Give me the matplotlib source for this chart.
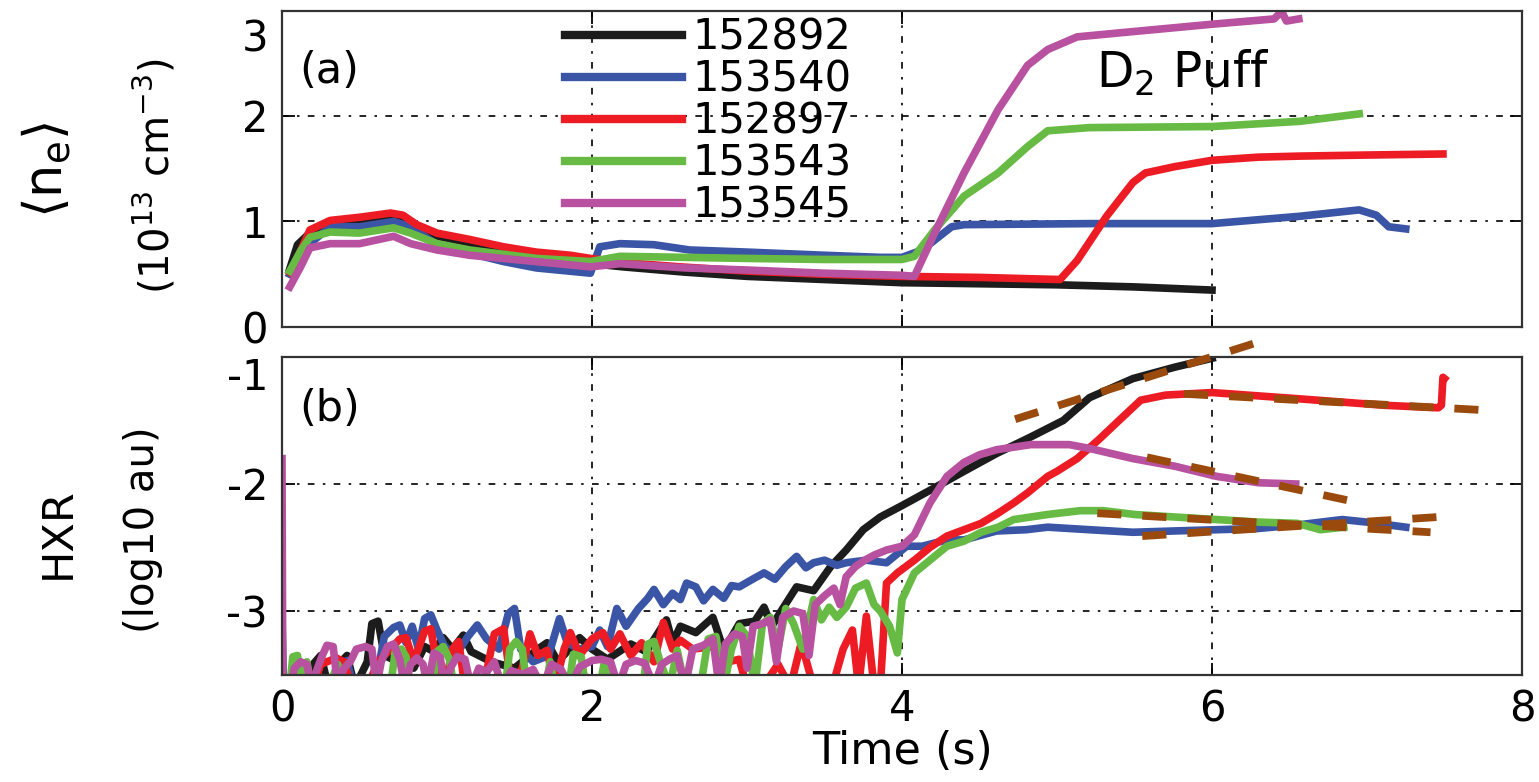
import matplotlib
matplotlib.use("Agg")
import matplotlib.pyplot as plt
from matplotlib.transforms import ScaledTranslation

# shot numbers and trace colours
SHOTS = ["152892", "153540", "152897", "153543", "153545"]
COLORS = ["#1c1c1c", "#3a55a5", "#ed1c24", "#67bb45", "#b8519f"]
FIT_COLOR = "#9a4a0c"

# ---- panel (a): line-averaged density, 1e13 cm^-3 ----
ne_t_152892 = [0.05, 0.10, 0.2, 0.3, 0.5, 0.7, 0.8, 0.9, 1.0, 1.2, 1.4, 1.6, 1.8, 2.0,
               2.2, 2.6, 3.0, 3.5, 4.0, 4.5, 5.0, 5.5, 6.0]
ne_v_152892 = [0.55, 0.78, 0.92, 0.97, 1.0, 1.03, 1.0, 0.93, 0.86, 0.80, 0.74, 0.69, 0.65, 0.60,
               0.57, 0.52, 0.48, 0.45, 0.42, 0.41, 0.40, 0.38, 0.35]

ne_t_153540 = [0.05, 0.10, 0.18, 0.31, 0.50, 0.72, 0.83, 1.0, 1.21, 1.43, 1.64, 1.99, 2.05,
               2.18, 2.4, 2.63, 3.0, 3.5, 3.86, 4.0, 4.13, 4.32, 4.40, 5.21, 6.0, 6.57, 6.95,
               7.06, 7.14, 7.25]
ne_v_153540 = [0.50, 0.65, 0.79, 0.95, 0.95, 1.0, 0.95, 0.78, 0.70, 0.62, 0.56, 0.51, 0.76,
               0.79, 0.78, 0.73, 0.71, 0.68, 0.66, 0.66, 0.73, 0.95, 0.97, 0.98, 0.98, 1.05, 1.11,
               1.06, 0.95, 0.93]

ne_t_152897 = [0.05, 0.08, 0.12, 0.18, 0.31, 0.50, 0.70, 0.78, 0.87, 1.0, 1.21, 1.43, 1.64,
               1.86, 1.99, 2.1, 2.3, 2.57, 3.0, 3.5, 4.0, 4.5, 5.02, 5.13, 5.32, 5.49, 5.57,
               5.76, 6.0, 6.3, 6.57, 7.0, 7.49]
ne_v_152897 = [0.52, 0.58, 0.72, 0.92, 1.01, 1.04, 1.08, 1.06, 0.97, 0.89, 0.83, 0.76, 0.71,
               0.68, 0.65, 0.63, 0.60, 0.57, 0.53, 0.50, 0.48, 0.47, 0.45, 0.63, 1.05, 1.37, 1.46,
               1.52, 1.58, 1.61, 1.62, 1.63, 1.64]

ne_t_153543 = [0.05, 0.12, 0.18, 0.31, 0.50, 0.72, 0.83, 1.0, 1.21, 1.64, 1.99, 2.18, 2.6,
               3.0, 3.5, 4.0, 4.08, 4.21, 4.40, 4.62, 4.81, 4.94, 5.21, 6.0, 6.57, 6.95]
ne_v_153543 = [0.53, 0.72, 0.85, 0.90, 0.89, 0.94, 0.89, 0.79, 0.73, 0.65, 0.62, 0.67, 0.66,
               0.65, 0.64, 0.64, 0.67, 0.92, 1.24, 1.46, 1.71, 1.86, 1.89, 1.90, 1.95, 2.02]

ne_t_153545 = [0.05, 0.12, 0.18, 0.31, 0.50, 0.72, 0.83, 1.0, 1.21, 1.64, 1.99, 2.18, 2.6,
               3.0, 3.5, 4.0, 4.08, 4.21, 4.40, 4.62, 4.81, 4.94, 5.13, 5.49, 6.0, 6.40, 6.45,
               6.48, 6.56]
ne_v_153545 = [0.38, 0.57, 0.75, 0.79, 0.79, 0.86, 0.79, 0.73, 0.68, 0.62, 0.57, 0.60, 0.56,
               0.54, 0.51, 0.49, 0.48, 0.89, 1.46, 2.06, 2.48, 2.63, 2.75, 2.80, 2.87, 2.92, 2.99,
               2.90, 2.92]

# ---- panel (b): HXR, log10 a.u. (values below -3.5 are clipped by the axis) ----
hxr_t_152892 = [0.0, 0.15, 0.20, 0.25, 0.30, 0.38, 0.42, 0.47, 0.55, 0.58, 0.62, 0.66, 0.75,
                0.85, 0.92, 0.98, 1.04, 1.10, 1.17, 1.22, 1.35, 1.50, 1.65, 1.71, 1.78, 1.92,
                2.0, 2.10, 2.25, 2.35, 2.48, 2.52, 2.57, 2.67, 2.78, 2.85, 2.95, 3.05, 3.11,
                3.16, 3.21, 3.32, 3.43, 3.54, 3.64, 3.75, 3.86, 4.0, 4.18, 4.40, 4.61, 4.83,
                5.04, 5.21, 5.49, 5.76, 6.0]
hxr_v_152892 = [-3.6, -3.6, -3.42, -3.35, -3.6, -3.40, -3.35, -3.6, -3.40, -3.10, -3.08, -3.35,
                -3.40, -3.45, -3.28, -3.32, -3.21, -3.30, -3.19, -3.32, -3.40, -3.45, -3.30,
                -3.25, -3.40, -3.21, -3.30, -3.38, -3.26, -3.32, -3.07, -3.25, -3.12, -3.17,
                -3.05, -3.31, -3.10, -3.08, -2.97, -3.12, -3.02, -2.81, -2.84, -2.65, -2.52,
                -2.36, -2.26, -2.17, -2.05, -1.90, -1.76, -1.63, -1.50, -1.32, -1.17, -1.08, -1.01]

hxr_t_153540 = [0.0, 0.01, 0.30, 0.38, 0.42, 0.46, 0.60, 0.66, 0.72, 0.76, 0.80, 0.84, 0.88,
                0.92, 0.96, 1.00, 1.05, 1.12, 1.20, 1.26, 1.32, 1.40, 1.46, 1.50, 1.54, 1.62,
                1.72, 1.79, 1.84, 1.92, 2.0, 2.05, 2.10, 2.16, 2.22, 2.30, 2.36, 2.40, 2.46,
                2.52, 2.57, 2.61, 2.67, 2.72, 2.78, 2.85, 2.90, 2.95, 3.05, 3.11, 3.18, 3.25,
                3.32, 3.38, 3.43, 3.50, 3.58, 3.64, 3.77, 3.90, 4.03, 4.13, 4.29, 4.40, 4.61,
                4.80, 4.94, 5.21, 5.49, 5.75, 6.03, 6.30, 6.57, 6.84, 7.00, 7.25]
hxr_v_153540 = [-3.05, -3.6, -3.6, -3.45, -3.39, -3.6, -3.6, -3.20, -3.13, -3.11, -3.25, -3.12,
                -3.30, -3.06, -3.03, -3.15, -3.28, -3.35, -3.20, -3.11, -3.22, -3.30, -3.02,
                -2.98, -3.30, -3.40, -3.35, -3.06, -3.25, -3.30, -3.28, -3.15, -3.28, -2.98,
                -3.12, -2.98, -2.90, -2.83, -2.95, -2.86, -2.91, -2.78, -2.81, -2.92, -2.83,
                -2.90, -2.80, -2.81, -2.74, -2.70, -2.75, -2.65, -2.57, -2.66, -2.62, -2.60,
                -2.64, -2.62, -2.60, -2.62, -2.49, -2.49, -2.44, -2.44, -2.37, -2.36, -2.34,
                -2.36, -2.38, -2.37, -2.36, -2.35, -2.32, -2.28, -2.30, -2.34]

hxr_t_152897 = [0.20, 0.25, 0.35, 0.40, 0.45, 0.55, 0.62, 0.70, 0.76, 0.80, 0.85, 0.92, 0.96,
                1.00, 1.05, 1.10, 1.14, 1.18, 1.30, 1.37, 1.43, 1.48, 1.55, 1.60, 1.65, 1.71,
                1.76, 1.82, 1.86, 1.92, 2.0, 2.07, 2.12, 2.18, 2.25, 2.32, 2.40, 2.46, 2.52,
                2.57, 2.65, 2.78, 2.88, 2.95, 3.00, 3.10, 3.20, 3.28, 3.35, 3.43, 3.55, 3.62,
                3.68, 3.72, 3.77, 3.82, 3.86, 3.90, 3.97, 4.08, 4.18, 4.29, 4.40, 4.51, 4.62,
                4.72, 4.81, 4.94, 5.0, 5.13, 5.27, 5.40, 5.54, 5.70, 6.0, 6.57, 7.11, 7.46,
                7.48, 7.49, 7.50]
hxr_v_152897 = [-3.6, -3.42, -3.37, -3.40, -3.6, -3.6, -3.40, -3.30, -3.22, -3.21, -3.40, -3.16,
                -3.14, -3.42, -3.6, -3.30, -3.24, -3.6, -3.6, -3.18, -3.14, -3.6, -3.45, -3.18,
                -3.35, -3.31, -3.6, -3.30, -3.17, -3.35, -3.22, -3.17, -3.30, -3.18, -3.35,
                -3.25, -3.40, -3.09, -3.30, -3.23, -3.30, -3.28, -3.40, -3.38, -3.6, -3.6,
                -3.42, -3.6, -3.25, -3.6, -3.6, -3.30, -3.15, -3.6, -3.04, -3.6, -3.6, -2.78,
                -2.70, -2.60, -2.50, -2.41, -2.36, -2.31, -2.23, -2.15, -2.07, -1.94, -1.90,
                -1.80, -1.65, -1.50, -1.34, -1.30, -1.28, -1.33, -1.38, -1.40, -1.38, -1.16, -1.17]

hxr_t_153543 = [0.0, 0.005, 0.05, 0.07, 0.10, 0.13, 0.16, 0.19, 0.30, 0.36, 0.40, 0.55, 0.70,
                0.73, 0.77, 0.80, 0.83, 0.97, 1.00, 1.04, 1.08, 1.11, 1.44, 1.47, 1.51, 1.55,
                1.58, 1.70, 1.73, 1.76, 1.85, 1.88, 1.93, 1.96, 2.05, 2.08, 2.12, 2.33, 2.36,
                2.40, 2.44, 2.50, 2.55, 2.60, 2.70, 2.75, 2.80, 2.85, 2.90, 2.95, 3.00, 3.05,
                3.10, 3.15, 3.20, 3.25, 3.30, 3.36, 3.43, 3.48, 3.53, 3.58, 3.64, 3.70, 3.77,
                3.82, 3.86, 3.92, 3.97, 4.00, 4.08, 4.18, 4.29, 4.40, 4.51, 4.62, 4.72, 4.94,
                5.15, 5.30, 5.50, 5.76, 6.03, 6.30, 6.55, 6.70, 6.85]
hxr_v_153543 = [-3.23, -3.6, -3.6, -3.36, -3.35, -3.6, -3.40, -3.6, -3.6, -3.42, -3.6, -3.6,
                -3.6, -3.32, -3.30, -3.36, -3.6, -3.6, -3.32, -3.28, -3.38, -3.6, -3.6, -3.30,
                -3.24, -3.30, -3.6, -3.6, -3.40, -3.6, -3.6, -3.34, -3.36, -3.6, -3.6, -3.40,
                -3.6, -3.6, -3.26, -3.24, -3.40, -3.6, -3.31, -3.6, -3.6, -3.22, -3.20, -3.6,
                -3.30, -3.12, -3.20, -3.6, -3.10, -3.05, -3.30, -2.98, -3.10, -3.30, -2.91,
                -3.07, -2.97, -3.05, -2.97, -2.82, -2.78, -2.95, -3.00, -3.12, -3.33, -2.91,
                -2.70, -2.60, -2.49, -2.45, -2.38, -2.34, -2.28, -2.24, -2.21, -2.21, -2.24,
                -2.26, -2.28, -2.30, -2.31, -2.36, -2.34]

hxr_t_153545 = [0.0, 0.005, 0.05, 0.08, 0.12, 0.16, 0.19, 0.22, 0.26, 0.29, 0.33, 0.36, 0.40,
                0.44, 0.48, 0.54, 0.58, 0.61, 0.64, 0.68, 0.72, 0.76, 0.79, 0.83, 0.87, 0.91,
                0.94, 0.98, 1.02, 1.05, 1.09, 1.13, 1.18, 1.22, 1.27, 1.32, 1.37, 1.42, 1.48,
                1.55, 1.62, 1.68, 1.74, 1.80, 1.86, 1.92, 2.0, 2.06, 2.12, 2.17, 2.22, 2.28,
                2.34, 2.40, 2.45, 2.50, 2.55, 2.60, 2.65, 2.72, 2.78, 2.82, 2.86, 2.92, 2.97,
                3.00, 3.04, 3.10, 3.15, 3.19, 3.23, 3.30, 3.36, 3.40, 3.44, 3.50, 3.56, 3.60,
                3.64, 3.70, 3.76, 3.82, 3.90, 4.0, 4.08, 4.18, 4.29, 4.40, 4.50, 4.61, 4.83,
                5.08, 5.21, 5.49, 5.76, 6.03, 6.30, 6.54]
hxr_v_153545 = [-1.80, -3.6, -3.6, -3.45, -3.40, -3.42, -3.6, -3.48, -3.35, -3.27, -3.28, -3.6,
                -3.45, -3.40, -3.30, -3.28, -3.30, -3.6, -3.40, -3.28, -3.26, -3.38, -3.6, -3.42,
                -3.37, -3.42, -3.6, -3.33, -3.36, -3.6, -3.44, -3.36, -3.38, -3.6, -3.45, -3.48,
                -3.40, -3.6, -3.47, -3.50, -3.46, -3.6, -3.42, -3.46, -3.6, -3.44, -3.39, -3.38,
                -3.40, -3.6, -3.42, -3.39, -3.41, -3.6, -3.42, -3.38, -3.35, -3.6, -3.30, -3.27,
                -3.22, -3.6, -3.26, -3.18, -3.20, -3.45, -3.12, -3.10, -3.07, -3.40, -3.05,
                -3.00, -3.02, -3.35, -2.95, -2.88, -2.82, -2.95, -2.73, -2.65, -2.60, -2.56,
                -2.52, -2.49, -2.40, -2.15, -1.94, -1.83, -1.77, -1.73, -1.69, -1.69, -1.72,
                -1.80, -1.86, -1.94, -1.99, -2.00]

# straight-line fits (start/end points) drawn dashed in panel (b)
fit_t = [[4.73, 6.28], [5.82, 7.78], [5.58, 6.92], [5.26, 7.41], [5.55, 7.46]]
fit_v = [[-1.49, -0.89], [-1.29, -1.42], [-1.79, -2.14], [-2.23, -2.38], [-2.41, -2.26]]

ne_series = [(ne_t_152892, ne_v_152892), (ne_t_153540, ne_v_153540),
             (ne_t_152897, ne_v_152897), (ne_t_153543, ne_v_153543),
             (ne_t_153545, ne_v_153545)]
hxr_series = [(hxr_t_152892, hxr_v_152892), (hxr_t_153540, hxr_v_153540),
              (hxr_t_152897, hxr_v_152897), (hxr_t_153543, hxr_v_153543),
              (hxr_t_153545, hxr_v_153545)]

W, H = 1539, 782
fig = plt.figure(figsize=(W / 100, H / 100), dpi=100)
left, width = 282 / W, 1240 / W
ax_a = fig.add_axes([left, 1 - 327 / H, width, 316.5 / H])
ax_b = fig.add_axes([left, 1 - 674.5 / H, width, 317.5 / H])

TICK_FS = 30
LW = 5.5
GRID_LS = (0, (4, 5, 1.5, 5))

for ax in (ax_a, ax_b):
    ax.set_xlim(0, 8)
    ax.set_xticks([0, 2, 4, 6, 8])
    ax.grid(True, color="k", lw=1.2, linestyle=GRID_LS)
    ax.tick_params(direction="in", length=9, width=1.3, top=True, right=True,
                   labelsize=TICK_FS, pad=10)
    for sp in ax.spines.values():
        sp.set_linewidth(1.6)
        sp.set_color("#333333")

for (t, v), c, name in zip(ne_series, COLORS, SHOTS):
    ax_a.plot(t, v, color=c, lw=LW, label=name)
ax_a.set_ylim(0, 3)
ax_a.set_yticks([0, 1, 2, 3])
ax_a.tick_params(labelbottom=False)
leg = ax_a.legend(loc="upper left", bbox_to_anchor=(0.215, 1.035), frameon=False,
                  fontsize=30, handlelength=2.8, handletextpad=0.25, labelspacing=0.0,
                  borderaxespad=0)
for ln in leg.get_lines():
    ln.set_linewidth(6)
ax_a.text(0.014, 0.81, "(a)", transform=ax_a.transAxes, fontsize=31, va="center")
ax_a.text(5.25, 2.27, r"D$_2$ Puff", fontsize=35, va="baseline")

for (t, v), c in zip(hxr_series, COLORS):
    ax_b.plot(t, v, color=c, lw=LW)
for t, v in zip(fit_t, fit_v):
    ax_b.plot(t, v, color=FIT_COLOR, lw=5.6, dashes=(3.1, 2.7), clip_on=False, zorder=5)
ax_b.set_ylim(-3.5, -1)
ax_b.set_yticks([-3, -2, -1])
ax_b.set_yticklabels(["-3", "-2", "-1"])
ax_b.text(0.014, 0.835, "(b)", transform=ax_b.transAxes, fontsize=31, va="center")
ax_b.set_xlabel("Time (s)", fontsize=32, labelpad=0)

# topmost y tick labels sit below their ticks, as in the original
top_a = ax_a.get_yticklabels()[-1]
top_a.set_va("top")
top_a.set_transform(top_a.get_transform() + ScaledTranslation(0, -0.08, fig.dpi_scale_trans))
top_b = ax_b.get_yticklabels()[-1]
top_b.set_va("top")

fig.text(46 / W, 1 - 170 / H, r"$\langle\mathrm{n_e}\rangle$", rotation=90,
         fontsize=38, ha="center", va="center")
fig.text(155 / W, 1 - 176 / H, r"(10$^{13}$ cm$^{-3}$)", rotation=90,
         fontsize=29, ha="center", va="center")
fig.text(58 / W, 1 - 533 / H, "HXR", rotation=90, fontsize=31,
         ha="center", va="center")
fig.text(143 / W, 1 - 530 / H, "(log10 au)", rotation=90, fontsize=29,
         ha="center", va="center")

fig.savefig("out.png", dpi=100)
